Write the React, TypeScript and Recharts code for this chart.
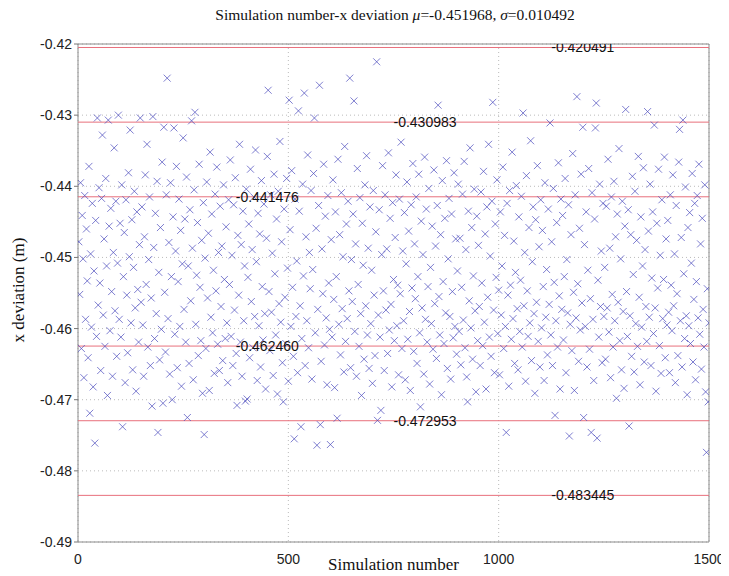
import React from "react";
import {
  ScatterChart,
  Scatter,
  XAxis,
  YAxis,
  CartesianGrid,
  ReferenceLine,
  ReferenceArea,
} from "recharts";

// x deviation (m), one value per two simulations (2, 4, ... 1500)
const xDeviation: number[] = [
  -0.4478, -0.4552, -0.4395, -0.4628, -0.4441, -0.4502, -0.4669, -0.4413, -0.4587, -0.446, -0.4533, -0.4641, -0.4372, -0.4719, -0.4495, -0.4598, -0.4424, -0.4682, -0.4519, -0.4761, -0.4448, -0.4611, -0.4304, -0.4567, -0.4402,
  -0.4536, -0.4659, -0.4417, -0.4328, -0.4581, -0.4474, -0.4625, -0.4389, -0.4512, -0.4694, -0.4307, -0.4456, -0.4603, -0.4431, -0.4548, -0.4667, -0.4493, -0.4346, -0.4575, -0.4421, -0.4639, -0.4508, -0.43, -0.4587, -0.4452,
  -0.4612, -0.4398, -0.4738, -0.4527, -0.4465, -0.4676, -0.4419, -0.4553, -0.4634, -0.4381, -0.4499, -0.4321, -0.4592, -0.4447, -0.4658, -0.4514, -0.4407, -0.4571, -0.4688, -0.4436, -0.4545, -0.4619, -0.4482, -0.4304, -0.4563,
  -0.4429, -0.4595, -0.4667, -0.4471, -0.4384, -0.4538, -0.4341, -0.4626, -0.4503, -0.4415, -0.4652, -0.4557, -0.4709, -0.4302, -0.4486, -0.4614, -0.4438, -0.4579, -0.4393, -0.4746, -0.4521, -0.4644, -0.4458, -0.4601, -0.4366,
  -0.4705, -0.4317, -0.4549, -0.4633, -0.4412, -0.4248, -0.4586, -0.4479, -0.4664, -0.4395, -0.4527, -0.47, -0.4443, -0.4318, -0.4608, -0.4491, -0.4372, -0.4655, -0.4534, -0.4418, -0.4597, -0.4462, -0.4681, -0.4509, -0.4332,
  -0.4573, -0.4446, -0.4619, -0.4387, -0.4725, -0.4512, -0.4649, -0.4433, -0.4561, -0.4308, -0.4487, -0.4672, -0.4405, -0.4296, -0.4594, -0.4525, -0.4451, -0.4638, -0.4369, -0.4542, -0.4617, -0.4476, -0.4691, -0.4423, -0.4749,
  -0.4501, -0.4628, -0.4394, -0.4557, -0.4466, -0.4687, -0.4352, -0.4584, -0.4439, -0.4606, -0.4518, -0.4663, -0.4411, -0.4547, -0.4373, -0.4622, -0.4493, -0.4659, -0.4428, -0.4569, -0.4484, -0.4645, -0.4398, -0.4531, -0.4614,
  -0.4457, -0.4592, -0.4676, -0.4419, -0.4538, -0.4363, -0.4611, -0.4497, -0.4652, -0.4426, -0.4574, -0.4388, -0.4635, -0.4708, -0.4469, -0.4553, -0.4341, -0.4619, -0.4482, -0.4667, -0.4435, -0.4589, -0.4512, -0.4702, -0.4404,
  -0.4699, -0.4528, -0.4453, -0.4641, -0.4376, -0.4562, -0.4489, -0.4627, -0.4415, -0.4583, -0.4349, -0.4506, -0.4673, -0.4438, -0.4596, -0.4467, -0.4654, -0.4392, -0.4541, -0.4616, -0.4425, -0.4579, -0.4685, -0.4473, -0.4358,
  -0.4265, -0.4548, -0.4631, -0.4412, -0.4577, -0.4494, -0.4666, -0.4383, -0.4523, -0.4609, -0.4446, -0.4692, -0.4407, -0.4565, -0.4337, -0.4591, -0.4478, -0.4648, -0.4703, -0.4432, -0.4556, -0.4621, -0.4389, -0.4515, -0.4674,
  -0.4279, -0.4461, -0.4597, -0.4378, -0.4542, -0.4639, -0.4755, -0.4418, -0.4583, -0.4505, -0.4662, -0.4294, -0.4435, -0.4568, -0.4738, -0.4614, -0.4397, -0.4526, -0.4269, -0.4652, -0.4471, -0.4589, -0.4356, -0.4627, -0.4493,
  -0.4544, -0.4406, -0.4671, -0.4517, -0.4382, -0.4304, -0.4606, -0.4459, -0.4764, -0.4573, -0.4427, -0.4258, -0.4735, -0.4646, -0.4488, -0.4551, -0.4369, -0.4623, -0.4442, -0.4585, -0.4679, -0.4413, -0.4536, -0.4601, -0.4763,
  -0.4475, -0.4612, -0.4391, -0.4559, -0.4683, -0.4436, -0.4527, -0.4726, -0.4362, -0.4594, -0.4468, -0.4637, -0.4409, -0.4572, -0.4499, -0.4661, -0.4344, -0.4618, -0.4453, -0.4586, -0.4421, -0.4547, -0.4248, -0.4655, -0.4503,
  -0.4562, -0.4439, -0.428, -0.4604, -0.4481, -0.4667, -0.4375, -0.4538, -0.4625, -0.4416, -0.4579, -0.4694, -0.4452, -0.4511, -0.4643, -0.4398, -0.4568, -0.4357, -0.4609, -0.4487, -0.4656, -0.4429, -0.4593, -0.4518, -0.4677,
  -0.4406, -0.4553, -0.4638, -0.4464, -0.4225, -0.4729, -0.4581, -0.4433, -0.4612, -0.4715, -0.4496, -0.4371, -0.4547, -0.4659, -0.4412, -0.4574, -0.4488, -0.4635, -0.4353, -0.4602, -0.4445, -0.4566, -0.4682, -0.4423, -0.4531,
  -0.4617, -0.4472, -0.4384, -0.4596, -0.4539, -0.4665, -0.4418, -0.4551, -0.4338, -0.4628, -0.4491, -0.4589, -0.4437, -0.4672, -0.4509, -0.4394, -0.4615, -0.4463, -0.4576, -0.4687, -0.4426, -0.4543, -0.4368, -0.4632, -0.4481,
  -0.4558, -0.4415, -0.4649, -0.4527, -0.4383, -0.4606, -0.471, -0.4449, -0.4571, -0.4496, -0.4664, -0.4359, -0.4587, -0.4432, -0.4619, -0.4541, -0.4403, -0.4678, -0.4514, -0.4593, -0.4456, -0.4629, -0.4377, -0.4565, -0.4484,
  -0.4642, -0.4427, -0.4286, -0.4555, -0.4609, -0.4468, -0.4693, -0.4392, -0.4534, -0.4621, -0.4445, -0.4578, -0.4364, -0.4656, -0.4502, -0.4417, -0.4583, -0.4671, -0.4439, -0.4548, -0.4613, -0.4381, -0.4597, -0.4474, -0.4636,
  -0.4519, -0.4397, -0.4604, -0.4473, -0.4651, -0.4542, -0.4411, -0.4588, -0.4365, -0.4627, -0.4489, -0.4668, -0.4703, -0.4435, -0.4561, -0.4346, -0.4599, -0.4458, -0.4643, -0.4526, -0.4404, -0.4575, -0.4689, -0.4442, -0.4617,
  -0.4483, -0.4569, -0.4652, -0.4408, -0.4536, -0.4624, -0.4379, -0.4591, -0.4467, -0.4685, -0.4429, -0.4556, -0.4341, -0.4612, -0.4498, -0.4639, -0.4421, -0.4282, -0.4574, -0.4662, -0.4453, -0.4528, -0.4391, -0.4607, -0.4546,
  -0.4665, -0.4436, -0.4581, -0.4512, -0.4373, -0.4628, -0.4469, -0.4597, -0.4746, -0.4424, -0.4553, -0.4681, -0.4406, -0.4539, -0.4615, -0.4352, -0.4586, -0.4477, -0.4649, -0.4521, -0.4399, -0.4572, -0.4658, -0.4443, -0.4604,
  -0.4532, -0.4414, -0.4626, -0.4297, -0.4568, -0.4493, -0.4674, -0.4385, -0.4547, -0.4611, -0.4458, -0.4592, -0.4336, -0.4645, -0.4506, -0.4429, -0.4579, -0.4691, -0.4447, -0.4563, -0.4371, -0.4618, -0.4485, -0.4654, -0.4419,
  -0.4599, -0.4462, -0.4541, -0.4673, -0.4395, -0.4584, -0.4517, -0.4637, -0.4432, -0.4566, -0.4311, -0.4609, -0.4478, -0.4652, -0.4403, -0.4535, -0.4722, -0.4589, -0.4451, -0.4626, -0.4367, -0.4554, -0.4685, -0.4418, -0.4573,
  -0.4441, -0.4616, -0.4527, -0.4389, -0.4662, -0.4503, -0.4578, -0.4426, -0.4751, -0.4594, -0.4468, -0.4631, -0.4354, -0.4549, -0.4687, -0.4412, -0.4585, -0.4274, -0.4537, -0.4646, -0.4459, -0.4602, -0.4383, -0.4564, -0.4317,
  -0.4725, -0.4482, -0.4597, -0.4436, -0.4654, -0.4518, -0.4375, -0.4629, -0.4558, -0.4746, -0.4409, -0.4587, -0.4673, -0.4446, -0.4318, -0.4283, -0.4754, -0.4532, -0.4612, -0.4397, -0.4569, -0.4491, -0.4648, -0.4424, -0.4583,
  -0.4514, -0.4643, -0.4428, -0.4571, -0.4362, -0.4605, -0.4487, -0.4669, -0.4415, -0.4552, -0.4626, -0.4393, -0.4589, -0.4471, -0.4698, -0.4439, -0.4563, -0.4347, -0.4617, -0.4502, -0.4658, -0.4421, -0.4576, -0.4684, -0.4456,
  -0.4292, -0.4548, -0.4611, -0.4433, -0.4737, -0.4582, -0.4468, -0.4639, -0.4386, -0.4524, -0.4661, -0.4407, -0.4593, -0.4476, -0.4625, -0.4358, -0.4556, -0.4679, -0.4443, -0.4598, -0.4512, -0.4374, -0.4647, -0.4489, -0.4569,
  -0.4618, -0.4295, -0.4463, -0.4584, -0.4397, -0.4652, -0.4529, -0.4436, -0.4607, -0.4314, -0.4571, -0.4688, -0.4452, -0.4543, -0.4376, -0.4624, -0.4497, -0.4663, -0.4419, -0.4586, -0.4531, -0.4359, -0.4641, -0.4474, -0.4595,
  -0.4448, -0.4577, -0.4662, -0.4412, -0.4539, -0.4603, -0.4384, -0.4568, -0.4495, -0.4676, -0.4427, -0.4551, -0.4638, -0.4366, -0.432, -0.4589, -0.4472, -0.4654, -0.4307, -0.4523, -0.4614, -0.4401, -0.4582, -0.4693, -0.4458,
  -0.4596, -0.4437, -0.4621, -0.4508, -0.4382, -0.4647, -0.4559, -0.4424, -0.4672, -0.4534, -0.4413, -0.4585, -0.4369, -0.4608, -0.4481, -0.4657, -0.4445, -0.4573, -0.4626, -0.4398, -0.4689, -0.4774, -0.4544, -0.4703, -0.4592,
];

// sigma lines (mu ± 1, 2, 3 sigma) and where their value labels start
const sigmaLines = [-0.420491, -0.430983, -0.441476, -0.46246, -0.472953, -0.483445];
const sigmaLabels = ["-0.420491", "-0.430983", "-0.441476", "-0.462460", "-0.472953", "-0.483445"];
const sigmaLabelX = [1125, 750, 375, 375, 750, 1125];

const xTicks = [0, 500, 1000, 1500];
const yTicks = [-0.49, -0.48, -0.47, -0.46, -0.45, -0.44, -0.43, -0.42];

const points = xDeviation.map((y, i) => ({ x: (i + 1) * 2, y }));
const labelPoints = sigmaLines.map((y, i) => ({ x: sigmaLabelX[i], y, text: sigmaLabels[i] }));

const Cross = (props: any) => {
  const { cx, cy } = props;
  if (cx == null || cy == null) return null;
  const r = 3.5;
  return (
    <path
      d={`M${cx - r},${cy - r}L${cx + r},${cy + r}M${cx - r},${cy + r}L${cx + r},${cy - r}`}
      stroke="#4848bc"
      strokeOpacity={0.7}
      strokeWidth={1}
      fill="none"
    />
  );
};

const ValueLabel = (props: any) => {
  const { cx, cy, payload } = props;
  if (cx == null || cy == null) return null;
  return (
    <text
      x={cx}
      y={cy}
      dominantBaseline="central"
      fontSize={14}
      fontFamily="'Liberation Sans', Arial, sans-serif"
      fill="#111"
    >
      {payload.text}
    </text>
  );
};

const tickStyle = { fontSize: 14, fontFamily: "'Liberation Sans', Arial, sans-serif", fill: "#222" };
const serif = "'Liberation Serif', 'Times New Roman', serif";

export default function App() {
  return (
    <div style={{ position: "relative", margin: "-8px -8px 0 -8px", width: 729, height: 576, background: "#fff" }}>
      <div
        style={{
          position: "absolute",
          left: 0,
          width: 790,
          top: 6,
          textAlign: "center",
          fontFamily: serif,
          fontSize: 15.5,
          color: "#111",
          whiteSpace: "nowrap",
        }}
      >
        Simulation number-x deviation <i>μ</i>=-0.451968, <i>σ</i>=0.010492
      </div>
      <div
        style={{
          position: "absolute",
          left: 19,
          top: 290,
          transform: "translate(-50%, -50%) rotate(-90deg)",
          fontFamily: serif,
          fontSize: 17,
          color: "#111",
          whiteSpace: "nowrap",
        }}
      >
        x deviation (m)
      </div>
      <div
        style={{
          position: "absolute",
          left: 78,
          width: 631,
          top: 555,
          textAlign: "center",
          fontFamily: serif,
          fontSize: 17,
          lineHeight: "20px",
          color: "#111",
          whiteSpace: "nowrap",
        }}
      >
        Simulation number
      </div>
      <ScatterChart width={729} height={576} margin={{ top: 44, right: 20, bottom: 0, left: 0 }}>
        <CartesianGrid stroke="#bbb" strokeDasharray="1 3" />
        <XAxis
          type="number"
          dataKey="x"
          domain={[0, 1500]}
          ticks={xTicks}
          allowDataOverflow
          height={34}
          axisLine={false}
          tickLine={false}
          tickMargin={6}
          tick={tickStyle}
        />
        <YAxis
          type="number"
          dataKey="y"
          domain={[-0.49, -0.42]}
          ticks={yTicks}
          allowDataOverflow
          width={78}
          axisLine={false}
          tickSize={4}
          tickLine={{ stroke: "#777" }}
          tickMargin={2}
          tick={tickStyle}
          tickFormatter={(v: number) => v.toFixed(2)}
        />
        <ReferenceArea x1={0} x2={1500} y1={-0.49} y2={-0.42} fill="none" stroke="#8a8a8a" strokeWidth={1} />
        <Scatter data={points} shape={<Cross />} isAnimationActive={false} />
        {sigmaLines.map((v) => (
          <ReferenceLine key={v} y={v} stroke="#e8707c" strokeWidth={1} />
        ))}
        <Scatter data={labelPoints} shape={<ValueLabel />} isAnimationActive={false} />
      </ScatterChart>
    </div>
  );
}
